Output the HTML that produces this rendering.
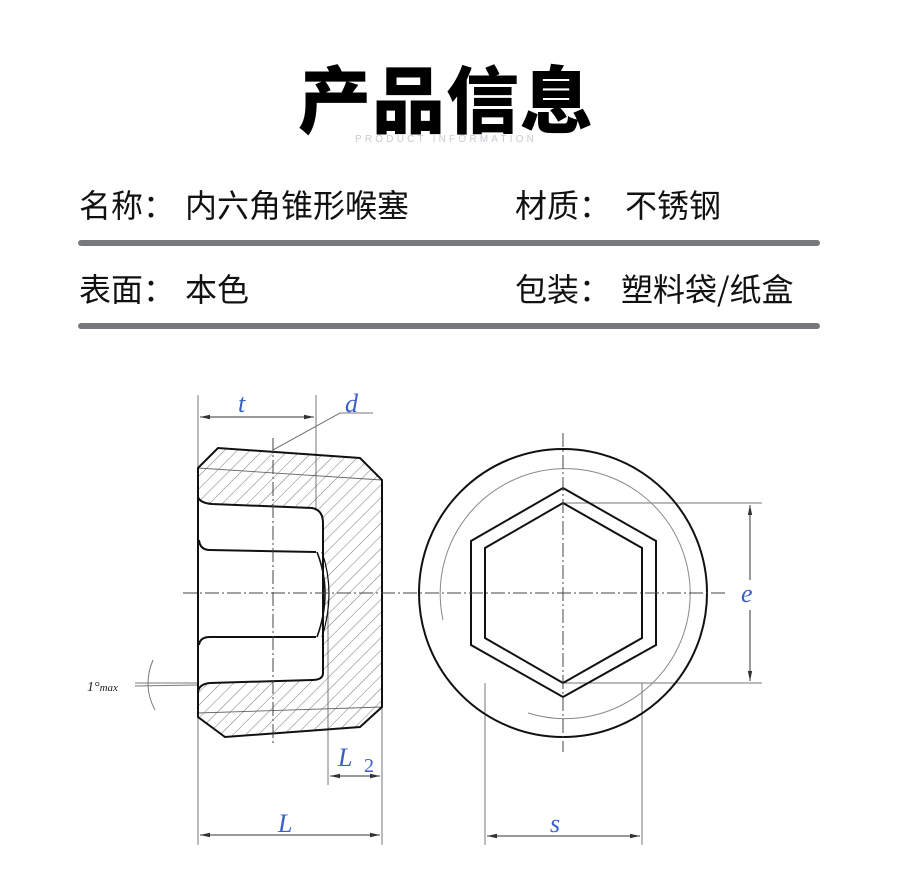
<!DOCTYPE html>
<html><head><meta charset="utf-8"><style>
html,body{margin:0;padding:0;background:#fff;}
body{width:900px;height:870px;position:relative;overflow:hidden;font-family:"Noto Sans CJK SC",sans-serif;}
.t{position:absolute;white-space:nowrap;color:#111;line-height:1;}
.c{display:inline-block;width:42px;text-align:left;}
.bar{position:absolute;left:78px;width:742px;height:6px;border-radius:3px;background:#76787b;}
</style></head><body>
<div class="t" style="left:298px;top:60px;font-size:73px;font-weight:900;letter-spacing:1px;color:#000;">产品信息</div>
<div class="t" style="left:355px;top:135px;font-size:10px;letter-spacing:3.2px;color:#c9c9cf;font-family:'Liberation Sans',sans-serif;">PRODUCT INFORMATION</div>
<div class="t" style="left:79px;top:188px;font-size:32px;">名称<span class="c">：</span>内六角锥形喉塞</div>
<div class="t" style="left:515px;top:188px;font-size:32px;">材质<span class="c" style="width:46px">：</span>不锈钢</div>
<div class="bar" style="top:240px"></div>
<div class="t" style="left:79px;top:272px;font-size:32px;">表面<span class="c">：</span>本色</div>
<div class="t" style="left:515px;top:272px;font-size:32px;">包装<span class="c" style="width:42px">：</span>塑料袋/纸盒</div>
<div class="bar" style="top:323px"></div>
<svg style="position:absolute;left:0;top:0" width="900" height="870" viewBox="0 0 900 870">
<defs>
<pattern id="h" width="9" height="9" patternUnits="userSpaceOnUse" patternTransform="rotate(45)">
<line x1="0" y1="0" x2="0" y2="9" stroke="#555" stroke-width="0.8"/></pattern>
<marker id="a" markerWidth="10" markerHeight="6" refX="10" refY="3" orient="auto-start-reverse" markerUnits="userSpaceOnUse"><path d="M0,0.8 L10,3 L0,5.2Z" fill="#333"/></marker>
</defs>
<g fill="none" stroke="#777" stroke-width="1">
<line x1="198" y1="395" x2="198" y2="845"/>
<line x1="316" y1="395" x2="316" y2="510"/>
<line x1="382" y1="700" x2="382" y2="845"/>
<line x1="328" y1="600" x2="328" y2="785"/>
<polyline points="273,450 340,413 373,413"/>
<line x1="200" y1="417" x2="314" y2="417" marker-start="url(#a)" marker-end="url(#a)" stroke="#333"/>
<line x1="330" y1="776" x2="380" y2="776" marker-start="url(#a)" marker-end="url(#a)" stroke="#333"/>
<line x1="200" y1="835" x2="380" y2="835" marker-start="url(#a)" marker-end="url(#a)" stroke="#333"/>
<line x1="135" y1="683" x2="198" y2="683"/>
<line x1="135" y1="686" x2="198" y2="685"/>
<path d="M153,660 Q142,686 155,710"/>
<line x1="563" y1="503" x2="762" y2="503"/>
<line x1="563" y1="683" x2="762" y2="683"/>
<line x1="750" y1="505" x2="750" y2="580" marker-start="url(#a)" stroke="#333"/>
<line x1="750" y1="610" x2="750" y2="681" marker-end="url(#a)" stroke="#333"/>
<line x1="485" y1="683" x2="485" y2="845"/>
<line x1="642" y1="683" x2="642" y2="845"/>
<line x1="487" y1="836" x2="640" y2="836" marker-start="url(#a)" marker-end="url(#a)" stroke="#333"/>
<path d="M443,620 A125 125 0 1 1 528,713" stroke="#888"/>
</g>
<path d="M198,468 L218,448 L360,458 L382,480 L382,707 L360,727 L225,737 L198,717 Z M198,692 Q199,684 210,683 L312,680 Q323,680 323,673 L323,523 Q323,510 312,508 L212,504 Q200,503 198,497 Z" fill="url(#h)" fill-rule="evenodd" stroke="none"/>
<g fill="none" stroke="#666" stroke-width="0.9">
<line x1="198" y1="468" x2="382" y2="480"/>
<line x1="198" y1="713" x2="382" y2="707"/>
</g>
<g fill="none" stroke="#111" stroke-width="2">
<path d="M198,468 L218,448 L360,458 L382,480 L382,707 L360,727 L225,737 L198,717 Z"/>
<path d="M198,497 Q200,503 212,504 L312,508 Q323,510 323,523 L323,673 Q323,680 312,680 L210,683 Q199,684 198,692"/>
<path d="M199,540 Q200,550 210,550 L316,552"/>
<path d="M199,645 Q200,637 210,637 L316,637"/>
<path d="M317,552 Q333,593 317,637" stroke-width="1.6"/>
<path d="M322,552 Q336,593 322,637" stroke-width="1.2"/>
<circle cx="563" cy="593" r="144"/>
<polygon points="563,488 656,541 656,645 563,697 471,645 471,541"/>
<polygon points="563,503 642,548 642,638 563,683 485,638 485,548"/>
</g>
<g stroke="#444" stroke-width="1" stroke-dasharray="14,3,2,3" fill="none">
<line x1="183" y1="593" x2="725" y2="593"/>
<line x1="273" y1="438" x2="273" y2="746"/>
<line x1="563" y1="433" x2="563" y2="752"/>
</g>
<g font-family="Liberation Serif,serif" font-style="italic" fill="#3a5fc8" font-size="26">
<text x="238" y="412">t</text>
<text x="345" y="412">d</text>
<text x="338" y="766">L</text>
<text x="364" y="772" font-size="20" font-style="normal">2</text>
<text x="278" y="832">L</text>
<text x="741" y="602">e</text>
<text x="550" y="832">s</text>
</g>
<text x="87" y="691" font-family="Liberation Serif,serif" font-style="italic" font-size="14" fill="#222">1°<tspan font-size="11">max</tspan></text>
</svg>
</body></html>
